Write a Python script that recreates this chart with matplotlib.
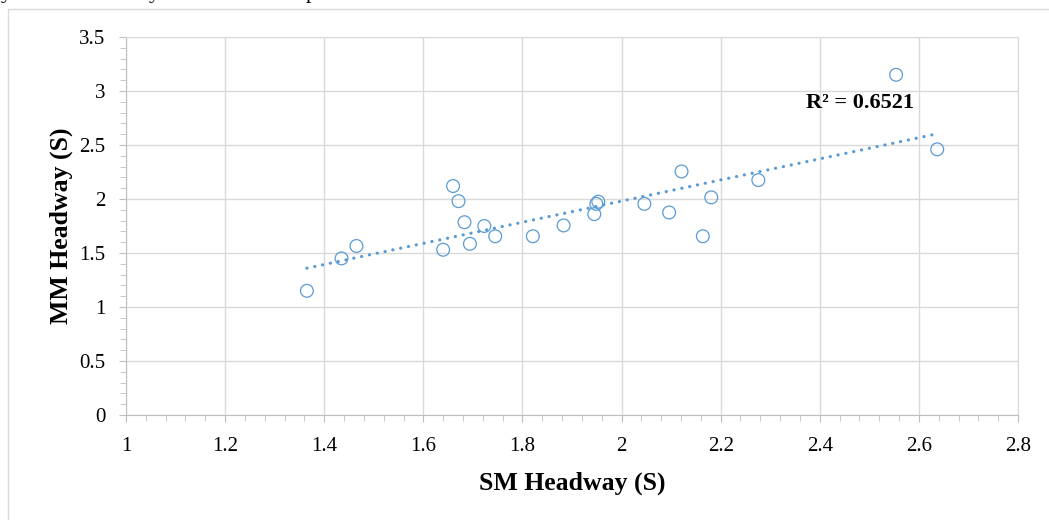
import matplotlib
matplotlib.use('Agg')
import matplotlib.pyplot as plt
import numpy as np
from matplotlib.ticker import MultipleLocator

plt.rcParams['font.family'] = ['Liberation Serif', 'DejaVu Serif']

# SM headway (x) vs MM headway (y), seconds
sm_headway = [1.365, 1.435, 1.465, 1.640, 1.660, 1.671, 1.683, 1.694, 1.723, 1.745,
              1.821, 1.883, 1.945, 1.949, 1.953, 2.046, 2.096, 2.121, 2.164, 2.181,
              2.276, 2.554, 2.637]
mm_headway = [1.15, 1.45, 1.565, 1.53, 2.12, 1.98, 1.785, 1.585, 1.75, 1.655,
              1.655, 1.755, 1.86, 1.955, 1.975, 1.955, 1.875, 2.255, 1.655, 2.015,
              2.175, 3.15, 2.46]
r2_label = 'R² = 0.6521'
x_title = 'SM Headway (S)'
y_title = 'MM Headway (S)'

blue = '#5B9BD5'
grid_c = '#D9D9D9'
axis_c = '#BFBFBF'

fig = plt.figure(figsize=(10.49, 5.2), dpi=100)
ax = fig.add_axes([126 / 1049, 1 - 415 / 520, (1018 - 126) / 1049, (415 - 37) / 520])

# outer chart border (clipped by figure edges on right/bottom)
fig.patches.append(plt.Rectangle((8 / 1049, -0.1), 1.2, 1 - 9 / 520 + 0.1,
                                 transform=fig.transFigure, fill=False,
                                 edgecolor=grid_c, linewidth=1.0))

# descenders of the text line above the chart (cut off in the reference too)
for xp, ch in [(1, 'y'), (149, 'y'), (306, 'p')]:
    fig.text(xp / 1049, 1 + 2 / 520, ch, fontsize=16, va='baseline', ha='left', color='black')

x = np.array(sm_headway)
y = np.array(mm_headway)

ax.scatter(x, y, s=9.2 ** 2, facecolors='none', edgecolors=blue, linewidths=0.9, zorder=3)

# linear trend line over the data range
k, b = np.polyfit(x, y, 1)
xs = np.array([x.min(), x.max()])
ax.plot(xs, k * xs + b, color=blue, lw=2.3, linestyle=(0, (0.05, 2.45)),
        dash_capstyle='round', zorder=2)

ax.text(2.372, 2.84, r2_label, fontsize=16, fontweight='bold', ha='left', va='baseline')

ax.set_xlim(1, 2.8)
ax.set_ylim(0, 3.5)
ax.xaxis.set_minor_locator(MultipleLocator(0.04))
ax.yaxis.set_minor_locator(MultipleLocator(0.1))
ax.set_xticks(np.arange(1, 2.81, 0.2))
ax.set_xticklabels(['1', '1.2', '1.4', '1.6', '1.8', '2', '2.2', '2.4', '2.6', '2.8'])
ax.set_yticks(np.arange(0, 3.51, 0.5))
ax.set_yticklabels(['0', '0.5', '1', '1.5', '2', '2.5', '3', '3.5'])

ax.grid(True, which='major', color=grid_c, linewidth=1.0)
ax.set_axisbelow(True)
for side in ['top', 'right']:
    ax.spines[side].set_color(grid_c)
for side in ['left', 'bottom']:
    ax.spines[side].set_color(axis_c)
ax.tick_params(which='both', direction='out', color=axis_c, labelsize=15)
ax.tick_params(which='major', length=5)
ax.tick_params(which='minor', length=4)
ax.tick_params(axis='y', which='major', pad=10)
ax.tick_params(axis='x', which='major', pad=11)

ax.set_xlabel(x_title, fontsize=18.5, fontweight='bold', labelpad=11)
ax.set_ylabel(y_title, fontsize=18.5, fontweight='bold', labelpad=4)

fig.savefig('out.png', dpi=100)
